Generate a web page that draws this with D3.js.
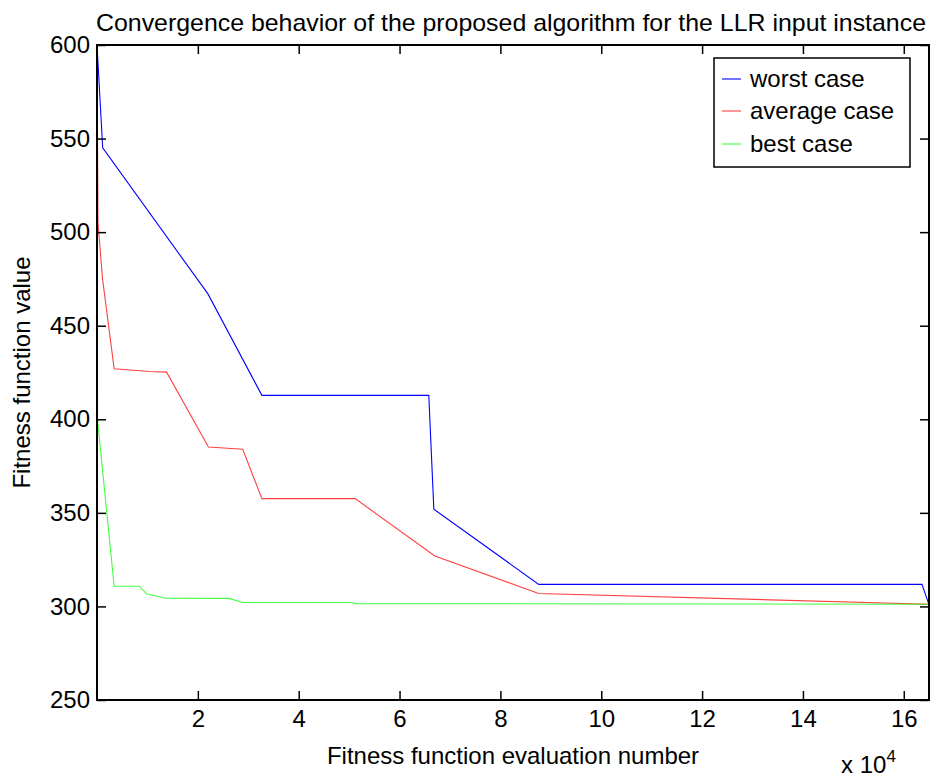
<!DOCTYPE html>
<html>
<head>
<meta charset="utf-8">
<script src="https://cdn.jsdelivr.net/npm/d3@7/dist/d3.min.js"></script>
<style>
  html, body { margin: 0; padding: 0; background: #fff; }
  svg { display: block; font-family: "Liberation Sans", Arial, Helvetica, sans-serif; }
</style>
</head>
<body>
<svg id="chart" width="937" height="778"></svg>
<script>
// ---- data (x in evaluations, y = fitness) ----
const worstX = [0, 1130, 22000, 32700, 65800, 66800, 87600, 163600, 165000];
const worstY = [600, 545, 467, 412.8, 412.8, 352, 311.8, 311.8, 301];

const avgX = [0, 200, 1100, 3400, 10500, 13800, 22100, 28900, 32700, 51200, 67000, 87600, 165000];
const avgY = [600, 505, 475, 427, 425.5, 425.2, 385.2, 384, 357.6, 357.6, 327, 306.9, 301.2];

const bestX = [0, 100, 3400, 8400, 9900, 13700, 26100, 29000, 50500, 51500, 165000];
const bestY = [600, 400, 310.8, 310.8, 306.6, 304.4, 304.3, 302.1, 302.1, 301.5, 301.2];

const seriesNames = ["worst case", "average case", "best case"];
const seriesColors = ["#0000ff", "#ff0000", "#00ff00"];

const xTicks = [20000, 40000, 60000, 80000, 100000, 120000, 140000, 160000];
const yTicks = [250, 300, 350, 400, 450, 500, 550, 600];

const titleText = "Convergence behavior of the proposed algorithm for the LLR input instance";
const xLabel = "Fitness function evaluation number";
const yLabel = "Fitness function value";

// ---- layout ----
const L = 97, R = 929, T = 45, B = 700;
const svg = d3.select("#chart");
const x = d3.scaleLinear().domain([0, 165000]).range([L, R]);
const y = d3.scaleLinear().domain([250, 600]).range([B, T]);

const font = 24;

// lines
const series = [
  worstX.map((d, i) => [d, worstY[i]]),
  avgX.map((d, i) => [d, avgY[i]]),
  bestX.map((d, i) => [d, bestY[i]])
];
const line = d3.line().x(d => x(d[0])).y(d => y(d[1]));
svg.append("clipPath").attr("id", "clip")
  .append("rect").attr("x", L).attr("y", T - 1).attr("width", R - L + 1).attr("height", B - T + 2);
const gLines = svg.append("g").attr("clip-path", "url(#clip)");
series.forEach((s, i) => {
  gLines.append("path").datum(s)
    .attr("d", line)
    .attr("fill", "none")
    .attr("stroke", seriesColors[i])
    .attr("stroke-width", 1.1)
    .attr("stroke-opacity", i === 0 ? 1 : 0.75);
});

// axes: MATLAB-style, ticks inward on all four sides
const tickLen = 9;
const axB = d3.axisBottom(x).tickValues(xTicks).tickSize(-tickLen).tickPadding(10).tickFormat(d => d / 10000);
const axT = d3.axisTop(x).tickValues(xTicks).tickSize(-tickLen).tickFormat("");
const axL = d3.axisLeft(y).tickValues(yTicks).tickSize(-tickLen).tickPadding(7).tickFormat(d3.format("d"));
const axR = d3.axisRight(y).tickValues(yTicks).tickSize(-tickLen).tickFormat("");

function styleAxis(g) {
  g.select(".domain").remove();
  g.selectAll(".tick line").attr("stroke", "#000").attr("stroke-width", 1.5);
  g.selectAll(".tick text").attr("fill", "#000").style("font-size", font + "px")
    .style("font-family", '"Liberation Sans", Arial, sans-serif');
}
svg.append("g").attr("transform", `translate(0,${B})`).call(axB).call(styleAxis);
svg.append("g").attr("transform", `translate(0,${T})`).call(axT).call(styleAxis);
svg.append("g").attr("transform", `translate(${L},0)`).call(axL).call(styleAxis);
svg.append("g").attr("transform", `translate(${R},0)`).call(axR).call(styleAxis);

// frame
svg.append("rect").attr("x", L).attr("y", T).attr("width", R - L).attr("height", B - T)
  .attr("fill", "none").attr("stroke", "#000").attr("stroke-width", 2);

// title
svg.append("text").attr("x", (L + R) / 2 - 2).attr("y", 31)
  .attr("text-anchor", "middle").style("font-size", "24px")
  .attr("textLength", 830).attr("lengthAdjust", "spacingAndGlyphs")
  .text(titleText);

// axis labels
svg.append("text").attr("x", (L + R) / 2).attr("y", 764)
  .attr("text-anchor", "middle").style("font-size", font + "px").text(xLabel);
svg.append("text")
  .attr("transform", `translate(30,${(T + B) / 2}) rotate(-90)`)
  .attr("text-anchor", "middle").style("font-size", font + "px").text(yLabel);

// exponent label
const ex = svg.append("text").attr("x", 841).attr("y", 773).style("font-size", font + "px");
ex.append("tspan").text("x 10");
ex.append("tspan").attr("dy", -11).style("font-size", "17px").text("4");

// legend
const lgX = 714, lgY = 58, lgW = 196, lgH = 109;
svg.append("rect").attr("x", lgX).attr("y", lgY).attr("width", lgW).attr("height", lgH)
  .attr("fill", "#fff").attr("stroke", "#000").attr("stroke-width", 1.5);
const rowY = [79, 111, 144];
seriesNames.forEach((n, i) => {
  svg.append("line").attr("x1", lgX + 8).attr("x2", 741).attr("y1", rowY[i]).attr("y2", rowY[i])
    .attr("stroke", seriesColors[i]).attr("stroke-width", 1.1).attr("stroke-opacity", i === 0 ? 1 : 0.75);
  svg.append("text").attr("x", 750).attr("y", rowY[i]).attr("dy", "0.35em")
    .style("font-size", font + "px").text(n);
});
</script>
</body>
</html>
